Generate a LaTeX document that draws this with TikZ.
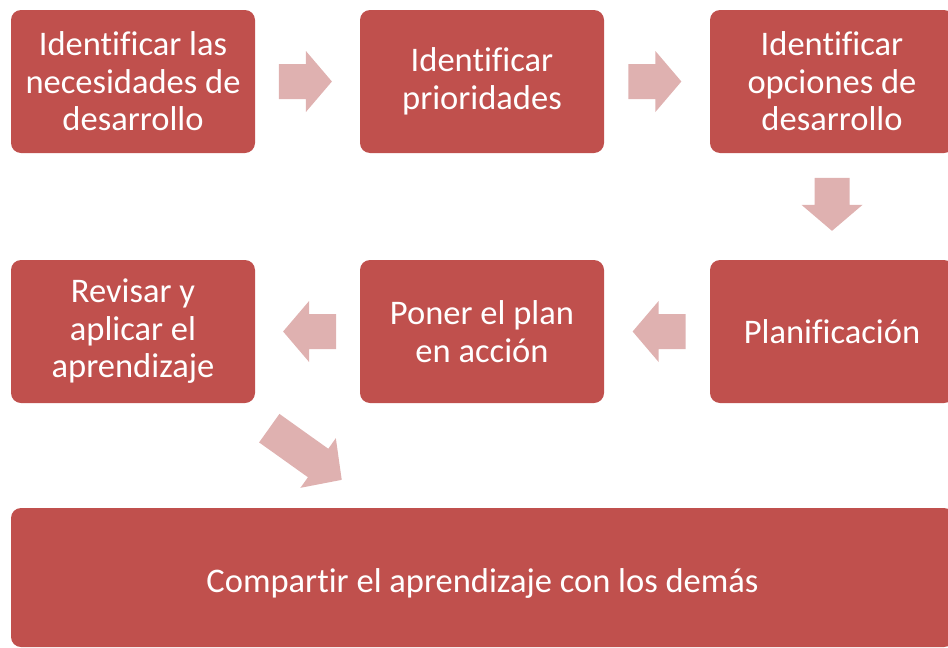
\documentclass[tikz,border=0pt]{standalone}
\usepackage{fontspec}
\setmainfont[Ligatures=NoCommon]{Carlito}
\usetikzlibrary{calc}
\definecolor{boxred}{RGB}{192,80,77}
\definecolor{arrowpink}{RGB}{223,177,176}
\tikzset{
  boxtext/.style={text=white, align=center, font=\fontsize{34.5}{37.5}\selectfont},
  stepbox/.style={rectangle, fill=boxred, rounded corners=10pt, minimum width=244pt,
    minimum height=143pt, inner sep=0pt, outer sep=0pt, boxtext},
  pics/barrow/.style n args={2}{code={
    \fill[arrowpink] (-#1/2,-17.5) -- (#1/2-#2,-17.5) -- (#1/2-#2,-30.5) -- (#1/2,0)
      -- (#1/2-#2,30.5) -- (#1/2-#2,17.5) -- (-#1/2,17.5) -- cycle;}}
}
\begin{document}
\begin{tikzpicture}[x=1pt,y=-1pt]
\useasboundingbox (0,0) rectangle (948,648);
\clip (0,0) rectangle (948,648);
\node[stepbox] (b1) at (133,81.5) {Identificar las\\necesidades de\\desarrollo};
\node[stepbox] (b2) at (482,81.5) {Identificar\\prioridades};
\node[stepbox] (b3) at (832,81.5) {Identificar\\opciones de\\desarrollo};
\node[stepbox] (b6) at (832,331.5) {Planificación};
\node[stepbox] (b5) at (482,331.5) {Poner el plan\\en acción};
\node[stepbox] (b4) at (133,331.5) {Revisar y\\aplicar el\\aprendizaje};
\node[stepbox, minimum width=943pt, minimum height=139pt] (b7) at (482.5,577.5) {};
\node[boxtext] (b7t) at ($(b7.center)+(0,6)$) {Compartir el aprendizaje con los demás};
\pic at ($(b1.east)!0.48!(b2.west)$) {barrow={53}{26}};
\pic at ($(b2.east)!0.48!(b3.west)$) {barrow={53}{26}};
\pic[rotate=-90] at ($(b3.south)!0.48!(b6.north)$) {barrow={53}{26}};
\pic[rotate=180] at ($(b6.west)!0.48!(b5.east)$) {barrow={53}{26}};
\pic[rotate=180] at ($(b5.west)!0.48!(b4.east)$) {barrow={53}{26}};
\pic[rotate=-35.5] at (305.5,454) {barrow={89}{29}};
\end{tikzpicture}
\end{document}
